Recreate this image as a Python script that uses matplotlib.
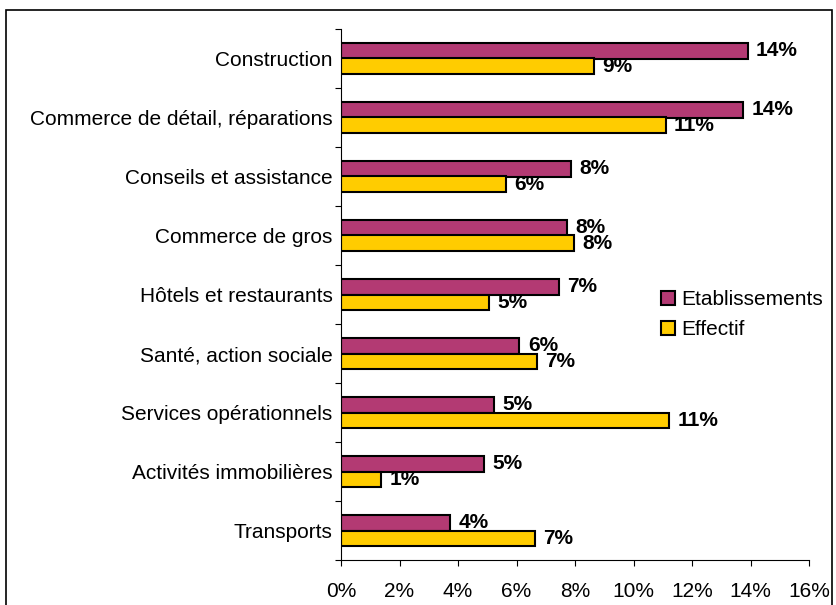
import matplotlib
matplotlib.use("Agg")
import matplotlib.pyplot as plt
import numpy as np
from matplotlib.patches import Rectangle

plt.rcParams['font.family'] = ['Liberation Sans', 'DejaVu Sans']

categories = ["Construction", "Commerce de détail, réparations", "Conseils et assistance",
              "Commerce de gros", "Hôtels et restaurants", "Santé, action sociale",
              "Services opérationnels", "Activités immobilières", "Transports"]
etablissements = [13.9, 13.75, 7.87, 7.73, 7.44, 6.1, 5.24, 4.9, 3.73]
effectif = [8.66, 11.1, 5.65, 7.97, 5.06, 6.7, 11.23, 1.37, 6.62]
etab_labels = ["14%", "14%", "8%", "8%", "7%", "6%", "5%", "5%", "4%"]
eff_labels = ["9%", "11%", "6%", "8%", "5%", "7%", "11%", "1%", "7%"]
xticks = [0, 2, 4, 6, 8, 10, 12, 14, 16]

W, H = 836, 605
fig = plt.figure(figsize=(W / 100, H / 100), dpi=100)
ax = fig.add_axes([341 / W, 1 - 560 / H, (809 - 341) / W, (560 - 29) / H])

n = len(categories)
y = np.arange(n)[::-1].astype(float)
h = 0.27
c1, c2 = '#B33A73', '#FFCC00'
ax.barh(y + h / 2, etablissements, height=h, color=c1, edgecolor='black', linewidth=1.5,
        label='Etablissements')
ax.barh(y - h / 2, effectif, height=h, color=c2, edgecolor='black', linewidth=1.5,
        label='Effectif')

for yi, v, t in zip(y, etablissements, etab_labels):
    ax.annotate(t, (v, yi + h / 2), xytext=(6, 0), textcoords='offset points',
                va='center', ha='left', fontsize=15, fontweight='bold')
for yi, v, t in zip(y, effectif, eff_labels):
    ax.annotate(t, (v, yi - h / 2), xytext=(6, 0), textcoords='offset points',
                va='center', ha='left', fontsize=15, fontweight='bold')

ax.set_xlim(0, 16)
ax.set_ylim(-0.5, n - 0.5)
ax.set_xticks(xticks)
ax.set_xticklabels([f"{v}%" for v in xticks], fontsize=15)
ax.set_yticks(y)
ax.set_yticklabels(categories, fontsize=15)
ax.yaxis.set_minor_locator(matplotlib.ticker.FixedLocator(np.arange(-0.5, n, 1.0)))
ax.tick_params(axis='y', which='major', length=0, pad=6)
ax.tick_params(axis='y', which='minor', length=4, width=0.8, direction='out')
ax.tick_params(axis='x', which='major', length=4, width=0.8, direction='out', pad=12)
for s in ['top', 'right']:
    ax.spines[s].set_visible(False)
for s in ['left', 'bottom']:
    ax.spines[s].set_linewidth(0.8)

ax.legend(loc='center left', bbox_to_anchor=(0.662, 0.462), frameon=False, fontsize=15,
          handlelength=0.65, handleheight=0.65, handletextpad=0.3, labelspacing=0.5,
          borderpad=0)

fig.patches.append(Rectangle((6 / W, -0.05), (832 - 6) / W, 1.05 - 10 / H,
                             transform=fig.transFigure, fill=False, edgecolor='black',
                             linewidth=1.2))

fig.savefig("out.png", dpi=100)
